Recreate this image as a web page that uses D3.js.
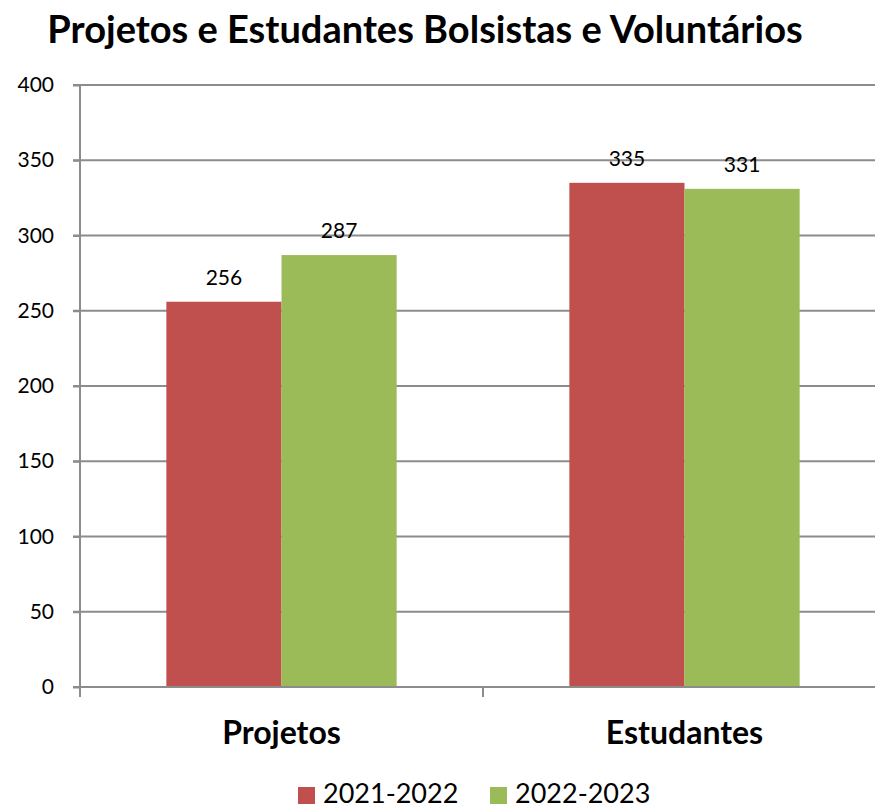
<!DOCTYPE html>
<html>
<head>
  <meta charset="UTF-8">
  <title>Projetos e Estudantes Bolsistas e Voluntários</title>
  <style>
    body { margin: 0; background: #fff; }
    svg { font-family: Lato, "Open Sans", sans-serif; }
  </style>
</head>
<body>
<svg id="chart" width="875" height="810"></svg>
<script src="https://d3js.org/d3.v7.min.js"></script>
<script>

// data
var categories = ["Projetos", "Estudantes"];
var seriesNames = ["2021-2022", "2022-2023"];
var values2122 = [256, 335];
var values2223 = [287, 331];
var yTicks = [0, 50, 100, 150, 200, 250, 300, 350, 400];
var colors = ["#C0504D", "#9BBB59"];

var svg = d3.select("#chart");

var plotLeft = 80, plotRight = 886, plotTop = 85, plotBottom = 687;

var x = d3.scaleBand()
    .domain(categories)
    .range([plotLeft, plotRight]);

var inner = d3.scaleBand()
    .domain(seriesNames)
    .range([0, x.bandwidth()])
    .paddingOuter(0.75)
    .paddingInner(0);

var y = d3.scaleLinear()
    .domain([0, 400])
    .range([plotBottom, plotTop]);

// title
svg.append("text")
    .attr("x", 425)
    .attr("y", 43)
    .attr("text-anchor", "middle")
    .style("font-size", "38px")
    .style("font-weight", "bold")
    .text("Projetos e Estudantes Bolsistas e Voluntários");

// gridlines
svg.append("g")
    .selectAll("line")
    .data(yTicks.filter(function(d) { return d > 0; }))
    .enter().append("line")
    .attr("x1", plotLeft - 7)
    .attr("x2", 875)
    .attr("y1", function(d) { return y(d); })
    .attr("y2", function(d) { return y(d); })
    .style("stroke", "#8c8c8c")
    .style("stroke-width", 2);

// y axis
var yAxis = svg.append("g")
    .attr("transform", "translate(" + plotLeft + ",0)")
    .call(d3.axisLeft(y).tickValues(yTicks).tickSize(7).tickPadding(19));
yAxis.select(".domain").remove();
yAxis.append("line")
    .attr("y1", plotTop).attr("y2", plotBottom + 10)
    .style("stroke", "#8c8c8c").style("stroke-width", 2);
yAxis.selectAll(".tick line").style("stroke", "#8c8c8c").style("stroke-width", 2);
yAxis.selectAll(".tick text")
    .style("font-size", "21px")
    .style("fill", "#000")
    .style("font-family", "Lato, sans-serif");

// bars
var rows = categories.map(function(c, i) {
  return { cat: c, vals: [values2122[i], values2223[i]] };
});

var groups = svg.append("g")
    .selectAll("g")
    .data(rows)
    .enter().append("g")
    .attr("transform", function(d) { return "translate(" + x(d.cat) + ",0)"; });

groups.selectAll("rect")
    .data(function(d) { return d.vals.map(function(v, j) { return { s: seriesNames[j], v: v, j: j }; }); })
    .enter().append("rect")
    .attr("x", function(d) { return inner(d.s); })
    .attr("width", inner.bandwidth())
    .attr("y", function(d) { return y(d.v); })
    .attr("height", function(d) { return plotBottom - y(d.v); })
    .style("fill", function(d) { return colors[d.j]; });

groups.selectAll("text.val")
    .data(function(d) { return d.vals.map(function(v, j) { return { s: seriesNames[j], v: v }; }); })
    .enter().append("text")
    .attr("class", "val")
    .attr("x", function(d) { return inner(d.s) + inner.bandwidth() / 2; })
    .attr("y", function(d) { return y(d.v) - 17; })
    .attr("text-anchor", "middle")
    .style("font-size", "21px")
    .text(function(d) { return d.v; });

// x axis
svg.append("line")
    .attr("x1", plotLeft - 7).attr("x2", 875)
    .attr("y1", plotBottom).attr("y2", plotBottom)
    .style("stroke", "#8c8c8c").style("stroke-width", 2);

svg.append("g")
    .selectAll("line")
    .data(categories.slice(1))
    .enter().append("line")
    .attr("x1", function(d) { return x(d); })
    .attr("x2", function(d) { return x(d); })
    .attr("y1", plotBottom).attr("y2", plotBottom + 10)
    .style("stroke", "#8c8c8c").style("stroke-width", 2);

svg.append("g")
    .selectAll("text")
    .data(categories)
    .enter().append("text")
    .attr("x", function(d) { return x(d) + x.bandwidth() / 2; })
    .attr("y", 744)
    .attr("text-anchor", "middle")
    .style("font-size", "32px")
    .style("font-weight", "bold")
    .text(function(d) { return d; });

// legend
var legend = svg.append("g")
    .selectAll("g")
    .data(seriesNames)
    .enter().append("g")
    .attr("transform", function(d, i) { return "translate(" + (298 + i * 192) + ",787)"; });

legend.append("rect")
    .attr("width", 17).attr("height", 17)
    .style("fill", function(d, i) { return colors[i]; });

legend.append("text")
    .attr("x", 25)
    .attr("y", 16)
    .style("font-size", "27px")
    .text(function(d) { return d; });

</script>
</body>
</html>
